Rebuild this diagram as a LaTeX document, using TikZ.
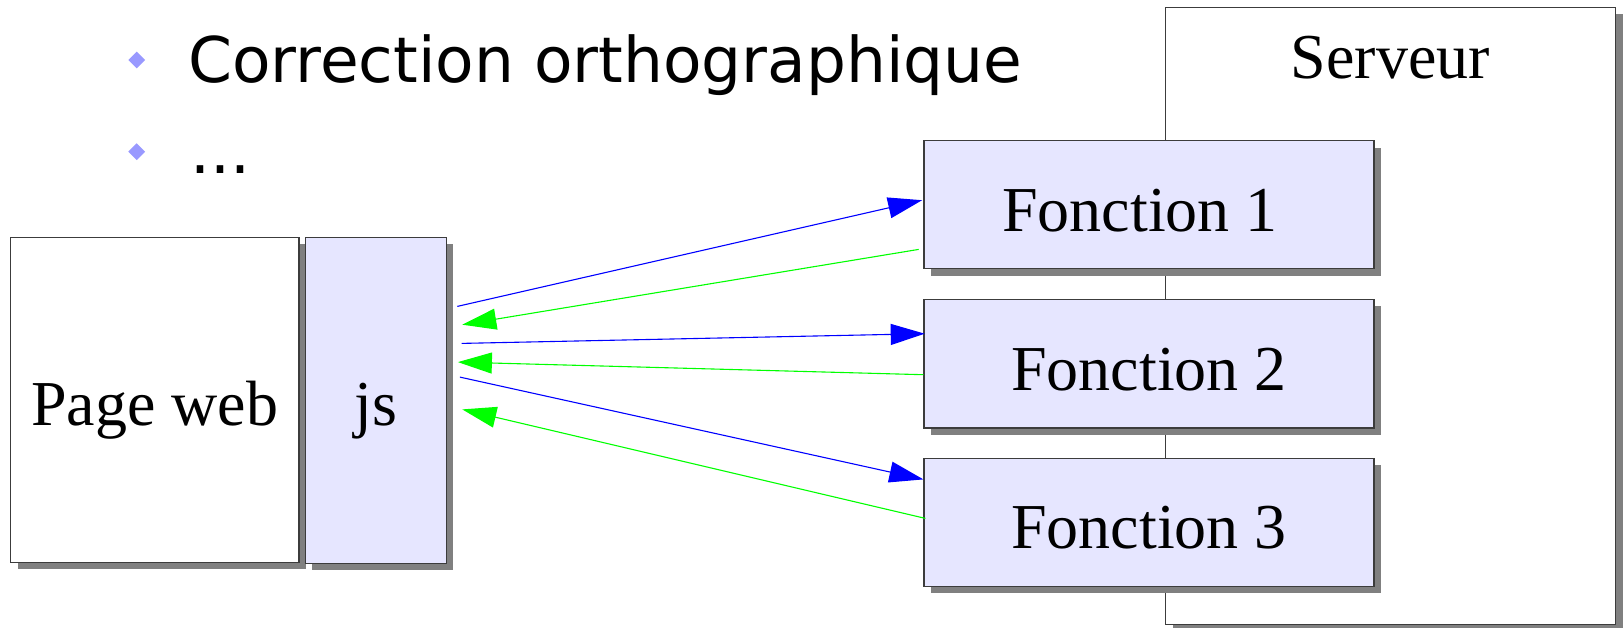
\documentclass[tikz,border=0pt]{standalone}
\usepackage{fontspec}
\setmainfont{Liberation Serif}
\newfontfamily\bulletfont{DejaVu Sans}
\usetikzlibrary{arrows.meta,shapes.geometric,shadows}
\definecolor{lav}{RGB}{230,230,255}
\definecolor{bord}{RGB}{60,60,60}
\definecolor{shad}{RGB}{128,128,128}
\definecolor{bul}{RGB}{153,153,255}
\definecolor{arrblue}{RGB}{0,0,255}
\definecolor{arrgreen}{RGB}{0,255,0}
\begin{document}
\begin{tikzpicture}[x=1pt,y=-1pt,
  box/.style={draw=bord, line width=1.2pt, rectangle, inner sep=0pt,
    font=\fontsize{64}{64}\selectfont,
    drop shadow={shadow xshift=7pt, shadow yshift=-7pt, fill=shad, opacity=1}},
  whitebox/.style={box, fill=white},
  lavbox/.style={box, fill=lav},
  bullet/.style={diamond, fill=bul, inner sep=0pt, minimum size=17pt},
  bigsans/.style={inner sep=0pt, anchor=base west, font=\bulletfont\fontsize{63}{63}\selectfont},
  bluearrow/.style={draw=arrblue, line width=1.1pt, -{Triangle[length=34pt,width=21pt]}, arrblue},
  greenarrow/.style={draw=arrgreen, line width=1.1pt, -{Triangle[length=34pt,width=21pt]}, arrgreen}
]
\useasboundingbox (0,0) rectangle (1623,627);

% bullets
\node[bullet] (b1) at (136.7,60) {};
\node[bullet] (b2) at (136.7,151.7) {};
\node[bigsans] (t1) at (188,82.7) {Correction orthographique};
\node[bigsans] (t2) at (190,173.3) {...};

% server
\node[whitebox, minimum width=450pt, minimum height=617pt] (srv) at (1390.5,315.6) {};
\node[anchor=base, inner sep=0pt, font=\fontsize{64}{64}\selectfont] (srvt) at (1390.5,78) {Serveur};

% functions
\node[lavbox, minimum width=450pt, minimum height=128pt, text height=53pt, text depth=0pt] (f1) at (1149,204.8) {Fonction 1\kern18pt};
\node[lavbox, minimum width=450pt, minimum height=128.8pt, text height=53pt, text depth=0pt] (f2) at (1149,363.6) {Fonction 2};
\node[lavbox, minimum width=450pt, minimum height=128pt, text height=53pt, text depth=0pt] (f3) at (1149,522.4) {Fonction 3};

% client
\node[whitebox, minimum width=288.3pt, minimum height=325pt, text height=50.4pt, text depth=0pt] (page) at (154.85,399.8) {Page web};
\node[lavbox, minimum width=141pt, minimum height=326pt, text height=49.4pt, text depth=0pt] (js) at (375.8,400.3) {js};

% arrows
\draw[bluearrow] ([shift={(10.4,69.7)}]js.north east) -- ([shift={(-1.3,60)}]f1.north west);
\draw[greenarrow] ([shift={(-4.7,109.2)}]f1.north west) -- ([shift={(15.4,88)}]js.north east);
\draw[bluearrow] ([shift={(14.7,106.7)}]js.north east) -- ([shift={(1.3,35.1)}]f2.north west);
\draw[greenarrow] ([shift={(0,76.1)}]f2.north west) -- ([shift={(11,125.4)}]js.north east);
\draw[bluearrow] ([shift={(13,140.4)}]js.north east) -- ([shift={(0,21.6)}]f3.north west);
\draw[greenarrow] ([shift={(2,60.6)}]f3.north west) -- ([shift={(15.4,172.7)}]js.north east);
\end{tikzpicture}
\end{document}
